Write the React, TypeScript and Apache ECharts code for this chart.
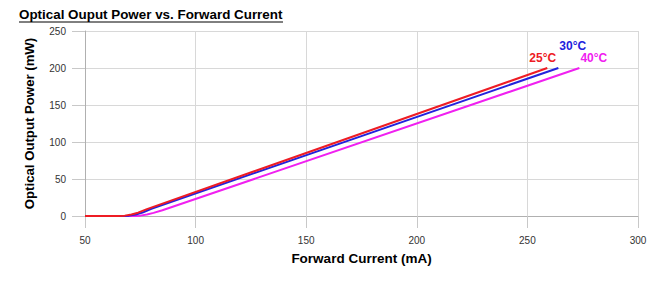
import React, { useEffect, useRef } from "react";
import * as echarts from "echarts";

const title = "Optical Ouput Power vs. Forward Current";
const xName = "Forward Current (mA)";
const yName = "Optical Output Power (mW)";

const current25 = [50, 65, 68, 71, 74, 78, 259];
const power25 = [0, 0, 0.5, 2, 4.5, 9.3, 200];
const current30 = [50, 67, 70, 73, 76, 80, 264];
const power30 = [0, 0, 0.5, 2, 4.6, 9.8, 200];
const current40 = [50, 72, 75, 78, 81, 85, 273.5];
const power40 = [0, 0, 0.5, 2, 4.2, 7.7, 200];

const seriesNames = ["40°C", "30°C", "25°C"];
const seriesColors = ["#f020f0", "#2222dd", "#ee1c24"];
const labelOffsets = [[1, -10], [1, -22], [-18, -10]];

export default function App() {
  const ref = useRef<HTMLDivElement>(null);
  useEffect(() => {
    const chart = echarts.init(ref.current!, null, { renderer: "svg" });
    const sets = [
      [current40, power40],
      [current30, power30],
      [current25, power25],
    ];
    const series = sets.map(([xs, ys], i) => ({
      type: "line",
      name: seriesNames[i],
      showSymbol: false,
      symbol: "none",
      lineStyle: { color: seriesColors[i], width: 2 },
      endLabel: {
        show: true,
        offset: labelOffsets[i],
        distance: 0,
        formatter: seriesNames[i],
        color: seriesColors[i],
        fontWeight: "bold",
        fontSize: 12,
        fontFamily: "Liberation Sans, Arial, sans-serif",
      },
      data: xs.map((x, j) => [x, ys[j]]),
    }));
    chart.setOption({
      animation: false,
      backgroundColor: "#ffffff",
      textStyle: { fontFamily: "Liberation Sans, Arial, sans-serif" },
      grid: { left: 85, right: 33, top: 31, bottom: 72 },
      graphic: [
        {
          type: "text",
          left: 19,
          top: 8,
          style: {
            text: title,
            fontSize: 13.4,
            fontWeight: "bold",
            fill: "#000",
            fontFamily: "Liberation Sans, Arial, sans-serif",
          },
        },
        {
          type: "line",
          shape: { x1: 19, y1: 22, x2: 283, y2: 22 },
          style: { stroke: "#000", lineWidth: 1 },
        },
      ],
      xAxis: {
        type: "value",
        min: 50,
        max: 300,
        interval: 50,
        name: xName,
        nameLocation: "middle",
        nameGap: 35,
        nameTextStyle: { fontWeight: "bold", fontSize: 13.5, color: "#000" },
        axisLine: { show: true, lineStyle: { color: "#b0b0b0" } },
        axisTick: { show: true, length: 12, lineStyle: { color: "#c8c8c8" } },
        axisLabel: { color: "#333", fontSize: 10, margin: 19 },
        splitLine: { show: true, lineStyle: { color: "#d8d8d8" } },
      },
      yAxis: {
        type: "value",
        min: 0,
        max: 250,
        interval: 50,
        name: yName,
        nameLocation: "middle",
        nameGap: 49,
        nameTextStyle: { fontWeight: "bold", fontSize: 13.2, color: "#000" },
        axisLine: { show: true, lineStyle: { color: "#b0b0b0" } },
        axisTick: { show: true, length: 13, lineStyle: { color: "#c8c8c8" } },
        axisLabel: { color: "#333", fontSize: 10, margin: 19 },
        splitLine: { show: true, lineStyle: { color: "#d8d8d8" } },
      },
      series,
    });
    return () => chart.dispose();
  }, []);
  return (
    <div
      ref={ref}
      style={{ position: "fixed", left: 0, top: 0, width: 671, height: 288 }}
    />
  );
}
